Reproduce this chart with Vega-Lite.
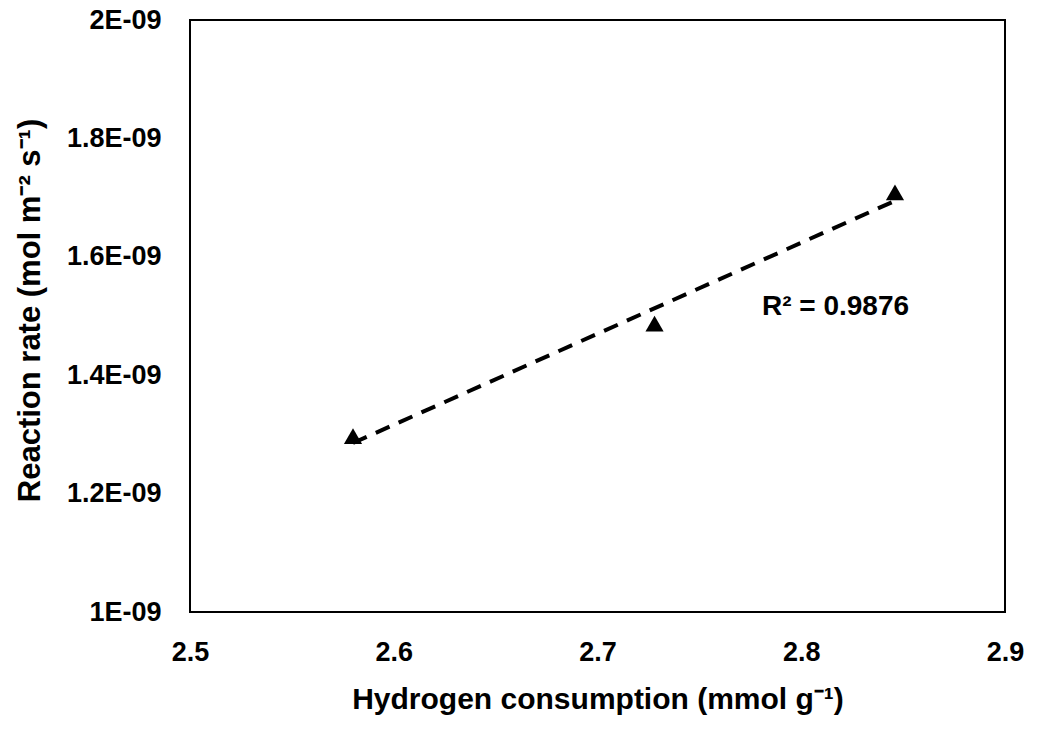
{
  "$schema": "https://vega.github.io/schema/vega-lite/v6.json",
  "width": 815,
  "height": 592,
  "autosize": {"type": "none"},
  "padding": {"left": 190, "top": 20, "right": 34, "bottom": 122},
  "background": "white",
  "config": {
    "view": {"stroke": "black", "strokeWidth": 2},
    "font": "Liberation Sans",
    "axis": {
      "grid": false,
      "domain": false,
      "ticks": false,
      "labelFlush": false,
      "labelOverlap": false,
      "labelFont": "Liberation Sans",
      "labelFontWeight": "bold",
      "labelFontSize": 27,
      "labelColor": "black",
      "titleFont": "Liberation Sans",
      "titleFontWeight": "bold",
      "titleFontSize": 30,
      "titleColor": "black"
    }
  },
  "data": {
    "values": [
      {"h2": 2.58, "rate": 1.297e-9},
      {"h2": 2.728, "rate": 1.487e-9},
      {"h2": 2.846, "rate": 1.709e-9}
    ]
  },
  "layer": [
    {
      "transform": [{"regression": "rate", "on": "h2"}],
      "mark": {"type": "line", "color": "black", "strokeWidth": 4, "strokeDash": [15, 10]},
      "encoding": {
        "x": {"field": "h2", "type": "quantitative"},
        "y": {"field": "rate", "type": "quantitative"}
      }
    },
    {
      "mark": {"type": "point", "shape": "triangle-up", "filled": true, "color": "black", "opacity": 1, "size": 330},
      "encoding": {
        "x": {
          "field": "h2", "type": "quantitative",
          "scale": {"domain": [2.5, 2.9], "nice": false, "zero": false},
          "axis": {"values": [2.5, 2.6, 2.7, 2.8, 2.9], "format": ".1f", "labelPadding": 27, "title": "Hydrogen consumption (mmol g⁻¹)", "titleBaseline": "alphabetic", "titleY": 96}
        },
        "y": {
          "field": "rate", "type": "quantitative",
          "scale": {"domain": [1e-9, 2e-9], "nice": false, "zero": false},
          "axis": {"values": [1e-9, 1.2e-9, 1.4e-9, 1.6e-9, 1.8e-9, 2e-9], "labelExpr": "format(datum.value*1e9, '.2~') + 'E-09'", "labelPadding": 29, "title": "Reaction rate (mol m⁻² s⁻¹)", "titleFontSize": 31, "titleBaseline": "alphabetic", "titleX": -151, "titleY": 290}
        }
      }
    },
    {
      "data": {"values": [{"h2": 2.7807, "rate": 1.5017e-9, "label": "R² = 0.9876"}]},
      "mark": {"type": "text", "align": "left", "baseline": "alphabetic", "fontSize": 28, "fontWeight": "bold", "color": "black", "font": "Liberation Sans"},
      "encoding": {
        "x": {"field": "h2", "type": "quantitative"},
        "y": {"field": "rate", "type": "quantitative"},
        "text": {"field": "label"}
      }
    }
  ]
}
